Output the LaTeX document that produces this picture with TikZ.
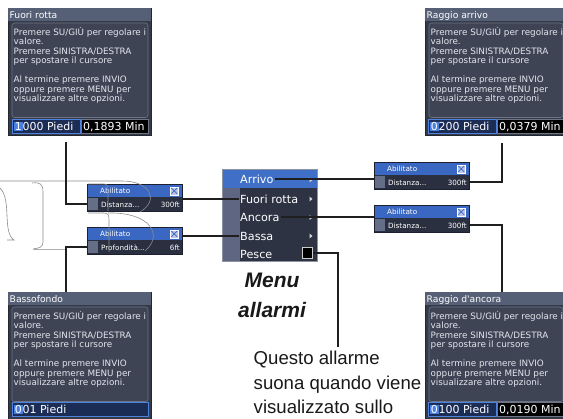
\documentclass[tikz,border=0pt]{standalone}
\usepackage{fontspec}
\setmainfont{DejaVu Sans}
\newfontfamily\lcdfont{DejaVu Sans}
\newfontfamily\arialfont{Liberation Sans}
\usetikzlibrary{calc}
\definecolor{scrbg}{HTML}{343A48}
\definecolor{scredge}{HTML}{23272F}
\definecolor{titlebg}{HTML}{555F75}
\definecolor{bodybg}{HTML}{3E4454}
\definecolor{bodyline}{HTML}{6C7386}
\definecolor{lcdtext}{HTML}{E2E6EE}
\definecolor{fieldbg}{HTML}{1B2C55}
\definecolor{fieldline}{HTML}{4F82DC}
\definecolor{hlblue}{HTML}{4A7FE0}
\definecolor{rfline}{HTML}{6F7482}
\definecolor{menubg}{HTML}{2D3343}
\definecolor{menustrip}{HTML}{5E6682}
\definecolor{menuhl}{HTML}{3F6FC6}
\definecolor{menuborder}{HTML}{8D93A3}
\definecolor{poptop}{HTML}{3A67C2}
\definecolor{popbot}{HTML}{2A3040}
\definecolor{popsq}{HTML}{646E86}
\definecolor{popborder}{HTML}{1C2030}
\definecolor{cbfill}{HTML}{BAC5EA}
\definecolor{connc}{HTML}{1F1F1F}
\definecolor{ghostc}{HTML}{8C8C8C}
\newcommand\lcdbodytext{Premere SU/GIÙ per regolare i\\valore.\\Premere SINISTRA/DESTRA\\per spostare il cursore\\[9.5pt]Al termine premere INVIO\\oppure premere MENU per\\visualizzare altre opzioni.}
\newcommand\hldigit[1]{{\setlength\fboxsep{0.7pt}\colorbox{hlblue}{#1}}}
\tikzset{
  conn/.style={draw=connc, line width=2pt},
  ghost/.style={draw=ghostc, line width=0.6pt},
  scrnode/.style={fill=scrbg, draw=scredge, line width=0.6pt, inner sep=0pt, outer sep=0pt},
  lcdtitle/.style={font=\lcdfont\fontsize{9.2}{10}\selectfont, text=white, inner sep=0pt},
  lcdbody/.style={font=\lcdfont\fontsize{8.8}{9.5}\selectfont, text=lcdtext, inner sep=0pt, align=left},
  lcdfield/.style={font=\lcdfont\fontsize{11}{12}\selectfont, text=white, inner sep=0pt},
  bluefield/.style={draw=fieldline, fill=fieldbg, line width=0.8pt},
  blackfield/.style={draw=rfline, fill=black, line width=0.6pt},
  popbox/.style={inner sep=0pt, outer sep=0pt, minimum width=95pt, minimum height=27pt},
  pophalf/.style={inner sep=0pt, outer sep=0pt, minimum width=95pt, minimum height=13.5pt},
  poptext/.style={font=\lcdfont\fontsize{7.2}{8}\selectfont, text=white, inner sep=0pt},
  mitem/.style={font=\lcdfont\fontsize{11.2}{12}\selectfont, text=white, inner sep=1pt, anchor=west},
  mtri/.style={fill=white!85!black},
}
\newcommand\lcdscreen[5]{%
\begin{scope}[shift={(#2,#3)}]
\node[scrnode, minimum width=#4pt, minimum height=127pt, anchor=north west] (#1) at (0,0) {};
\fill[titlebg] (0,0) rectangle (#4,13);
\node[lcdtitle, anchor=base west] at (1.5,10.5) {#5};
\draw[bodyline, fill=bodybg, line width=0.6pt, rounded corners=2.5pt] (4,15) rectangle ({#4-3},109.5);
\node[lcdbody, anchor=north west] at (5.5,19) {\lcdbodytext};
\end{scope}}
\newcommand\alarmpopup[5]{%
\begin{scope}[shift={(#2,#3)}]
\node[popbox, anchor=north west] (#1) at (0,0) {};
\node[pophalf, fill=poptop, anchor=north west] (#1t) at (0,0) {};
\node[pophalf, fill=popbot, anchor=north west] (#1b) at (0,13.5) {};
\fill[popsq] (0.5,14) rectangle (11,26.5);
\node[poptext, anchor=west] at (13,6.75) {Abilitato};
\draw[white, fill=cbfill, line width=0.4pt] (83,2.8) rectangle (91.5,11);
\draw[poptop, line width=0.8pt] (84.3,4) -- (90.2,9.8) (84.3,9.8) -- (90.2,4);
\node[poptext, anchor=west] at (14,20.5) {#4};
\node[poptext, anchor=east] at (93,20.5) {#5};
\draw[popborder, line width=0.8pt] (0,0) rectangle (95,27);
\end{scope}}
\begin{document}
\begin{tikzpicture}[x=1pt,y=-1pt]
\useasboundingbox (0,0) rectangle (563,419);
\clip (0,0) rectangle (563,419);
\fill[white] (0,0) rectangle (563,419);

% screens
\lcdscreen{fr}{8}{8}{143}{Fuori rotta}
\draw[bluefield] (12,119) rectangle (80,133);
\node[lcdfield, anchor=base west] at (14,130.5) {\hldigit{1}000 Piedi};
\draw[blackfield] (81,119) rectangle (148,133);
\node[lcdfield, anchor=base west] at (83,130.5) {0,1893 Min};

\lcdscreen{ra}{425}{8}{141}{Raggio arrivo}
\draw[bluefield] (428,119) rectangle (496,133);
\node[lcdfield, anchor=base west] at (430,130.5) {\hldigit{0}200 Piedi};
\draw[blackfield] (497,119) rectangle (565,133);
\node[lcdfield, anchor=base west] at (499,130.5) {0,0379 Min};

\lcdscreen{bf}{8}{292}{143}{Bassofondo}
\draw[bluefield] (12,402) rectangle (148,416);
\node[lcdfield, anchor=base west] at (14,413.5) {\hldigit{0}01 Piedi};

\lcdscreen{rd}{425}{292}{141}{Raggio d'ancora}
\draw[bluefield] (428,402) rectangle (496,416);
\node[lcdfield, anchor=base west] at (430,413.5) {\hldigit{0}100 Piedi};
\draw[blackfield] (497,402) rectangle (565,416);
\node[lcdfield, anchor=base west] at (499,413.5) {0,0190 Min};

% popups
\alarmpopup{pla}{87}{184}{Distanza...}{300ft}
\alarmpopup{plb}{87}{227}{Profondità...}{6ft}
\alarmpopup{pra}{374}{162}{Distanza...}{300ft}
\alarmpopup{prb}{374}{205}{Distanza...}{300ft}

% faint outline traces (drawn over the popups)
\draw[ghost] (0,181) -- (122,181) .. controls (150,181) and (160,200) .. (140,212);
\draw[ghost] (88,184) -- (104,184) .. controls (108,184) and (108,187) .. (108,192) -- (108,211);
\draw[ghost] (88,213) -- (104,213) .. controls (109,213) and (109,216) .. (109,222) -- (109,252);
\draw[ghost] (108,213) .. controls (150,212) and (164,235) .. (145,251);
\draw[ghost] (32,183) .. controls (40,182) and (43,184) .. (43,192) -- (43,242) .. controls (43,247) and (40,248) .. (33,249);
\draw[ghost, line width=1pt, draw=ghostc!70] (33,249.5) -- (66,249.5);
\draw[ghost] (0,188) .. controls (12,200) and (2,232) .. (14,240) -- (7,240);

% menu
\node[fill=menubg, inner sep=0pt, outer sep=0pt, minimum width=95pt, minimum height=92pt, anchor=north west] (menu) at (222,169) {};
\fill[menustrip] (222,169) rectangle (240,261);
\fill[menuhl] (222,169) rectangle (317,188.5);
\draw[menuborder, line width=0.8pt] (222,169) rectangle (317,261);
\node[mitem] (marr) at (239,179.5) {Arrivo};
\node[mitem] (mfr) at (239,199) {Fuori rotta};
\node[mitem] (manc) at (239,217.5) {Ancora};
\node[mitem] (mbas) at (239,236) {Bassa};
\node[mitem] (mpes) at (239,254.5) {Pesce};
\foreach \yy in {180,199,217.5,236}{\fill[mtri] (309.5,\yy-2.5) -- (312.5,\yy) -- (309.5,\yy+2.5) -- cycle;}
\node[fill=black, draw=white!80!black, line width=0.7pt, inner sep=0pt, minimum size=10.5pt] (chk) at (307.5,253) {};

\node[font=\arialfont\bfseries\itshape\fontsize{21}{30}\selectfont, align=center, anchor=north, inner sep=0pt, text=black!90] (mtitle) at (272,273) {Menu\\allarmi};
\node[font=\arialfont\fontsize{18.6}{24.5}\selectfont, align=left, anchor=north west, inner sep=0pt, text=black!90] (caption) at (253.5,351) {Questo allarme\\suona quando viene\\visualizzato sullo};

% tick coordinates
\coordinate (frtick) at (66,142);
\coordinate (bftick) at (66,292);
\coordinate (ratick) at (502,143);
\coordinate (rdtick) at (502,292);
\coordinate (captop) at (338,347);

% connectors
\draw[conn] (frtick) |- (plab.west);
\draw[conn] (mfr.west) -- (mfr.west -| pla.east);
\draw[conn] (mbas.west) -- (mbas.west -| plb.east);
\draw[conn] (plbb.west) -| (bftick);
\draw[conn] (marr.east) -- (marr.east -| pra.west);
\draw[conn] (prab.east) -| (ratick);
\draw[conn] (manc.east) -- (manc.east -| prb.west);
\draw[conn] (prbb.east) -| (rdtick);
\draw[conn] (chk.east) -| (captop);
\end{tikzpicture}
\end{document}
